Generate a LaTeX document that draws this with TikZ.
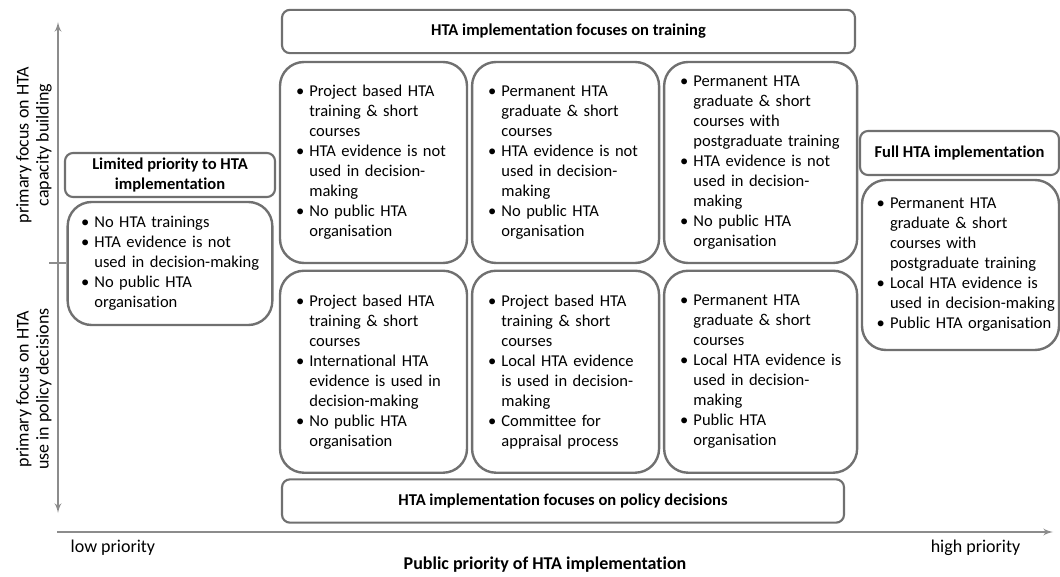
\documentclass[tikz,border=0pt]{standalone}
\usepackage{fontspec}
\setmainfont{Carlito}[Ligatures=NoCommon]
\usetikzlibrary{arrows,positioning}
\definecolor{boxgray}{RGB}{112,112,112}
\definecolor{axisgray}{RGB}{140,140,140}
\newcommand\hbul[1]{\makebox[10pt][l]{\textbullet}\mbox{#1}}
\newcommand\hcont[1]{\makebox[10pt]{}\mbox{#1}}

\begin{document}
\begin{tikzpicture}[x=0.75pt,y=-0.75pt,>=latex',
	cell/.style={draw=boxgray,line width=1.8pt,rounded corners=18pt,align=left,inner xsep=12pt,
		minimum height=150.75pt,text width=116.25pt,font=\fontsize{12.4}{15}\selectfont},
	head/.style={draw=boxgray,line width=1.6pt,rounded corners=6pt,align=center,
		minimum height=32.5pt,font=\fontsize{12.4}{15}\selectfont\bfseries},
	axis/.style={draw=axisgray,line width=1.5pt},
	lab/.style={font=\fontsize{13.5}{15}\selectfont}]

\useasboundingbox (0,0) rectangle (1060,577);

\node[head,minimum width=429.75pt] (train) at (568.5,31.5) {HTA implementation focuses on training};

\node[cell] (a1) at (373.5,162.5) {\hbul{Project based HTA}\\ \hcont{training \& short}\\ \hcont{courses}\\
	\hbul{HTA evidence is not}\\ \hcont{used in decision-}\\ \hcont{making}\\ \hbul{No public HTA}\\ \hcont{organisation}};
\node[cell] (a2) [right=2pt of a1] {\hbul{Permanent HTA}\\ \hcont{graduate \& short}\\ \hcont{courses}\\
	\hbul{HTA evidence is not}\\ \hcont{used in decision-}\\ \hcont{making}\\ \hbul{No public HTA}\\ \hcont{organisation}};
\node[cell,text width=120.75pt] (a3) [right=2pt of a2] {\hbul{Permanent HTA}\\ \hcont{graduate \& short}\\ \hcont{courses with}\\
	\hcont{postgraduate training}\\ \hbul{HTA evidence is not}\\ \hcont{used in decision-}\\ \hcont{making}\\ \hbul{No public HTA}\\ \hcont{organisation}};

\node[cell,minimum height=151.5pt] (b1) [below=4pt of a1] {\hbul{Project based HTA}\\ \hcont{training \& short}\\ \hcont{courses}\\
	\hbul{International HTA}\\ \hcont{evidence is used in}\\ \hcont{decision-making}\\ \hbul{No public HTA}\\ \hcont{organisation}};
\node[cell,minimum height=151.5pt] (b2) [below=4pt of a2] {\hbul{Project based HTA}\\ \hcont{training \& short}\\ \hcont{courses}\\
	\hbul{Local HTA evidence}\\ \hcont{is used in decision-}\\ \hcont{making}\\ \hbul{Committee for}\\ \hcont{appraisal process}};
\node[cell,minimum height=151.5pt,text width=120.75pt] (b3) [below=4pt of a3] {\hbul{Permanent HTA}\\ \hcont{graduate \& short}\\ \hcont{courses}\\
	\hbul{Local HTA evidence is}\\ \hcont{used in decision-}\\ \hcont{making}\\ \hbul{Public HTA}\\ \hcont{organisation}};

\node[head,minimum width=421.5pt] (policy) at (563,501) {HTA implementation focuses on policy decisions};

\node[head,minimum width=157.5pt,minimum height=33pt] (limited) at (170,175) {Limited priority to HTA\\implementation};
\node[cell,text width=133.5pt,minimum height=92.25pt,inner xsep=10pt] (lc) at (170,263.5) {\hbul{No HTA trainings}\\
	\hbul{HTA evidence is not}\\ \hcont{used in decision-making}\\ \hbul{No public HTA}\\ \hcont{organisation}};

\node[head,minimum width=149.25pt,minimum height=33pt] (full) at (959.5,153) {Full HTA implementation};
\node[cell,text width=125.75pt,minimum height=127.5pt,inner xsep=11pt] (rc) at (960.5,265) {\hbul{Permanent HTA}\\
	\hcont{graduate \& short}\\ \hcont{courses with}\\ \hcont{postgraduate training}\\ \hbul{Local HTA evidence is}\\
	\hcont{used in decision-making}\\ \hbul{Public HTA organisation}};

\coordinate (ytop) at (58,22);
\coordinate (ybot) at (58,513);
\coordinate (xorg) at (57,532);
\coordinate (xend) at (1053,532);
\coordinate (tick) at (49,263.5);

\draw[axis,<->] (ytop) -- (ybot);
\draw[axis,->] (xorg) -- (xend);
\draw[axis] (tick) -- (lc.west);

\node[lab,rotate=90,align=center] (cap) at (34,145) {primary focus on HTA\\capacity building};
\node[lab,rotate=90,align=center] (use) at (34,389) {primary focus on HTA\\use in policy decisions};
\node[lab,anchor=west] (low) at (66,548) {low priority};
\node[lab,anchor=east] (high) at (1025,548) {high priority};
\node[lab,font=\fontsize{13.5}{15}\selectfont\bfseries] (xlab) at (545,565) {Public priority of HTA implementation};
\end{tikzpicture}
\end{document}
